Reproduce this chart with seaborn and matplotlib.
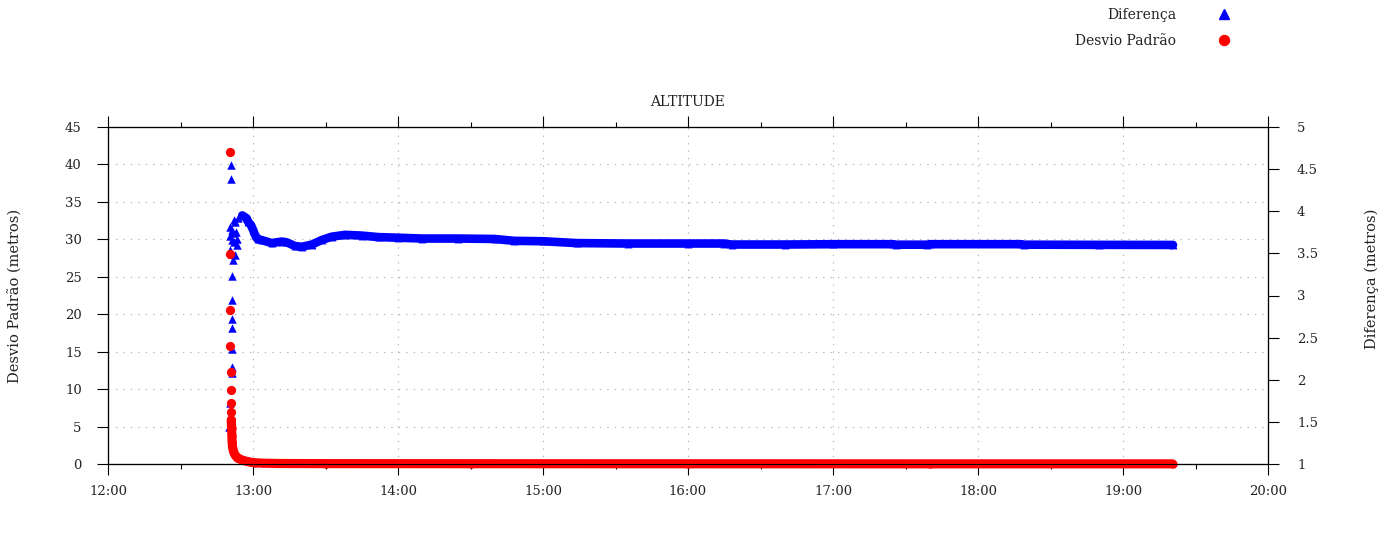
import numpy as np
import pandas as pd
import seaborn as sns
import matplotlib
matplotlib.use("Agg")
import matplotlib.pyplot as plt
from matplotlib.lines import Line2D
from matplotlib.ticker import MultipleLocator

# ---------------- data (times in minutes after 12:00) ----------------
# Diferença (metros, right axis) - isolated early points
dif_pts_min = [50.19, 50.48, 50.77, 50.77, 51.19, 51.43, 51.43, 51.43, 51.43, 51.43, 51.43,
               51.85, 52.55, 50.48, 53.25, 51.19, 51.85, 50.48, 52.55, 53.92,
               51.31, 52.14, 51.31, 52.97, 53.38, 52.14, 50.28]
dif_pts_val = [1.436, 1.729, 4.547, 4.378, 2.716, 3.231, 2.947, 2.618, 2.369, 2.156, 2.076,
               3.418, 3.480, 3.542, 3.596, 3.658, 3.738, 3.818, 3.871, 3.916,
               3.489, 3.631, 3.773, 3.756, 3.667, 3.898, 3.702]
# Diferença - continuous part
dif_min = [55.57, 57.39, 58.05, 59.17, 60.12, 60.83, 61.95, 63.60, 67.74, 71.88, 73.94,
           77.38, 80.15, 84.29, 88.43, 92.57, 98.07, 105, 112, 120, 130, 145, 160, 168,
           180, 194, 215, 240, 255, 258, 280, 300, 325, 326, 339, 340, 378, 379, 410, 440.7]
dif_val = [3.951, 3.916, 3.871, 3.836, 3.773, 3.720, 3.667, 3.658, 3.622, 3.640, 3.631,
           3.587, 3.578, 3.604, 3.658, 3.698, 3.720, 3.711, 3.693, 3.686, 3.676, 3.676, 3.671, 3.649,
           3.644, 3.622, 3.617, 3.617, 3.617, 3.605, 3.605, 3.609, 3.609, 3.603, 3.603, 3.609, 3.609, 3.603, 3.601, 3.600]

# Desvio Padrão (metros, left axis) - isolated early points
dp_pts_min = [50.45, 50.50, 50.60, 50.65, 50.70, 50.80, 50.85, 50.90, 51.00]
dp_pts_val = [41.7, 28.0, 20.6, 15.75, 12.3, 9.9, 8.2, 6.9, 5.9]
# Desvio Padrão - continuous part
dp_min = [51.00, 51.15, 51.25, 51.35, 51.50, 51.75, 52.10, 52.70, 53.50, 54.60, 56.00,
          57.50, 59.00, 61.00, 64.00, 70.00, 90.0, 150.0, 240.0, 340.0, 440.5]
dp_val = [5.90, 4.80, 3.80, 3.00, 2.40, 1.90, 1.50, 1.15, 0.85, 0.65, 0.48,
          0.34, 0.24, 0.17, 0.11, 0.07, 0.05, 0.04, 0.03, 0.02, 0.02]

hour_ticks = [12, 13, 14, 15, 16, 17, 18, 19, 20]
hour_labels = ["12:00", "13:00", "14:00", "15:00", "16:00", "17:00", "18:00", "19:00", "20:00"]
left_ticks = [0, 5, 10, 15, 20, 25, 30, 35, 40, 45]
right_ticks = [1, 1.5, 2, 2.5, 3, 3.5, 4, 4.5, 5]
right_labels = ["1", "1.5", "2", "2.5", "3", "3.5", "4", "4.5", "5"]

title = "ALTITUDE"
ylabel_left = "Desvio Padrão (metros)"
ylabel_right = "Diferença (metros)"
legend_labels = ["Diferença", "Desvio Padrão"]

BLUE = "#0000ff"
RED = "#ff0000"

# ---------------- style ----------------
sns.set_theme(style="white")
plt.rcParams.update({
    "font.family": ["DejaVu Serif"],
    "axes.edgecolor": "black",
    "axes.linewidth": 0.8,
    "xtick.color": "black",
    "ytick.color": "black",
    "text.color": "#222222",
    "axes.labelcolor": "#222222",
})

def to_hours(mins):
    return np.asarray(mins, dtype=float) / 60.0 + 12.0

W, H = 1397, 551
fig = plt.figure(figsize=(W / 100, H / 100), dpi=100)
L, R, T, B = 108, 1268, 127, 464
ax = fig.add_axes([L / W, 1 - B / H, (R - L) / W, (B - T) / H])

ax.set_xlim(12, 20)
ax.set_ylim(0, 45)
ax.set_xticks(hour_ticks)
ax.set_xticklabels(hour_labels, fontsize=9.5, color="#222222")
ax.xaxis.set_minor_locator(MultipleLocator(0.5))
ax.set_yticks(left_ticks)
ax.set_yticklabels([str(v) for v in left_ticks], fontsize=9.5, color="#222222")
ax.tick_params(axis="x", which="major", direction="out", top=True, bottom=True,
               length=7.9, width=0.8, pad=7)
ax.tick_params(axis="x", which="minor", direction="out", top=True, bottom=True,
               length=3.6, width=0.8)
ax.tick_params(axis="y", which="major", direction="out", left=True, right=False,
               length=7.9, width=0.8, pad=11)
ax.grid(True, which="major", color="#b4b4b4", linestyle=(0, (1.2, 5.5)), linewidth=0.8)
ax.set_axisbelow(True)

# right axis: Diferença
ax2 = ax.twinx()
ax2.set_ylim(1, 5)
ax2.set_yticks(right_ticks)
ax2.set_yticklabels(right_labels, fontsize=9.5, color="#222222")
ax2.tick_params(axis="y", direction="out", right=True, length=7.9, width=0.8, pad=13)
ax2.set_zorder(2)
ax2.patch.set_visible(False)
ax2.grid(False)

sns.lineplot(x=to_hours(dif_min), y=dif_val, ax=ax2, color=BLUE, linewidth=6.2,
             estimator=None, sort=False, solid_capstyle="round", solid_joinstyle="round",
             clip_on=False)
sns.scatterplot(x=to_hours(dif_min), y=dif_val, ax=ax2, color=BLUE, marker="^", s=32,
                linewidth=0, clip_on=False)
sns.scatterplot(x=to_hours(dif_pts_min), y=dif_pts_val, ax=ax2, color=BLUE, marker="^", s=37,
                linewidth=0, clip_on=False)

# overlay axis for Desvio Padrão (drawn on top, left scale)
ax3 = ax.twinx()
ax3.set_ylim(0, 45)
ax3.set_yticks([])
ax3.tick_params(axis="y", right=False, labelright=False)
ax3.set_zorder(3)
ax3.patch.set_visible(False)
ax3.grid(False)

sns.lineplot(x=to_hours(dp_min), y=dp_val, ax=ax3, color=RED, linewidth=6.6,
             estimator=None, sort=False, solid_capstyle="round", solid_joinstyle="round",
             clip_on=False)
sns.scatterplot(x=to_hours(dp_min), y=dp_val, ax=ax3, color=RED, marker="o", s=36,
                linewidth=0, clip_on=False)
sns.scatterplot(x=to_hours(dp_pts_min), y=dp_pts_val, ax=ax3, color=RED, marker="o", s=44,
                linewidth=0, clip_on=False)
ax3.set_xlim(12, 20)
ax3.set_ylabel("")
ax2.set_ylabel("")
ax.set_ylabel("")

# texts
fig.text(688 / W, 1 - 102 / H, title, ha="center", va="center", fontsize=10, color="#222222")
fig.text(16 / W, 1 - 295.5 / H, ylabel_left, rotation=90, ha="center", va="center",
         fontsize=10.5, color="#222222")
fig.text(1371.7 / W, 1 - 278.5 / H, ylabel_right, rotation=90, ha="center", va="center",
         fontsize=10.5, color="#222222")

handles = [Line2D([], [], color=BLUE, marker="^", linestyle="none", markersize=7.2),
           Line2D([], [], color=RED, marker="o", linestyle="none", markersize=7.2)]
fig.legend(handles, legend_labels, loc="upper right", bbox_to_anchor=(1238 / W, 1 - 8 / H),
           frameon=False, markerfirst=False, handlelength=2.0, handletextpad=2.45,
           labelspacing=0.86, borderpad=0, borderaxespad=0, fontsize=10)

fig.savefig("out.png", dpi=100)
